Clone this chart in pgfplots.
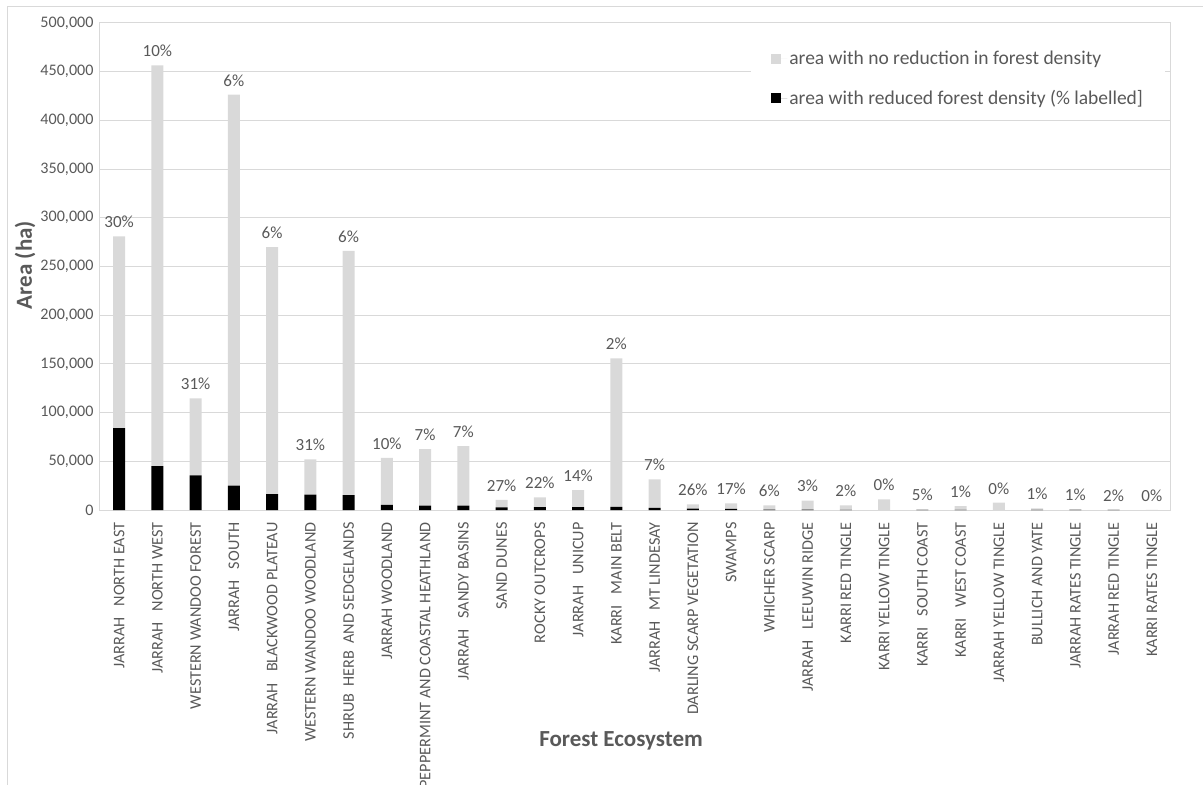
\documentclass[border=0pt]{standalone}
\usepackage{fontspec}
\setmainfont{Carlito}
\usepackage{pgfplots}
\pgfplotsset{compat=1.18}
\usepackage{pgfplotstable}

\definecolor{txt}{HTML}{595959}
\definecolor{barlight}{HTML}{D9D9D9}
\definecolor{gridc}{HTML}{D9D9D9}

% area (ha) per forest ecosystem: reduced density, remainder, total, share reduced (%)
\pgfplotstableread{
x reduced rest total pct
0  84000 197000 281000 30
1  45000 411500 456500 10
2  35500  79200 114700 31
3  25000 401400 426400 6
4  16400 253600 270000 6
5  15800  36200  52000 31
6  15200 250800 266000 6
7   5300  48100  53400 10
8   4400  58200  62600 7
9   4600  61100  65700 7
10  2800   7500  10300 27
11  2900  10100  13000 22
12  2900  17600  20500 14
13  3100 152600 155700 2
14  2200  29300  31500 7
15  1500   4300   5800 26
16  1200   5700   6900 17
17   300   4500   4800 6
18   300   9300   9600 3
19   100   4700   4800 2
20     0  11000  11000 0
21    30    570    600 5
22    40   4060   4100 1
23     0   7500   7500 0
24    20   1680   1700 1
25    10    990   1000 1
26     6    294    300 2
27     0    200    200 0
}\forestdata

\pgfplotsset{
  forestframe/.style={
    at={(100pt,275pt)}, anchor=south west,
    scale only axis, width=1071pt, height=487pt,
    xmin=-0.5, xmax=27.5, ymin=0, ymax=500000,
  }
}

\begin{document}
\begin{tikzpicture}[x=1pt,y=1pt]
\useasboundingbox (0,0) rectangle (1203,785);
% chart frame
\draw[gridc, line width=1pt] (7,0) -- (7,778) -- (1203,778);
\begin{axis}[
  forestframe,
  ybar stacked, bar width=12pt,
  ytick={0,50000,...,500000},
  scaled y ticks=false,
  /pgf/number format/fixed,
  /pgf/number format/1000 sep={,},
  /pgf/number format/assume math mode=true,
  ymajorgrids,
  grid style={gridc, line width=1pt},
  axis line style={gridc, line width=1pt},
  major tick length=0pt,
  xtick={0,...,27},
  xticklabels={
    JARRAH\ \ \ NORTH EAST, JARRAH\ \ \ NORTH WEST, WESTERN WANDOO FOREST,
    JARRAH\ \ \ SOUTH, JARRAH\ \ \ BLACKWOOD PLATEAU, WESTERN WANDOO WOODLAND,
    SHRUB\ \ HERB\ \ AND SEDGELANDS, JARRAH WOODLAND,
    PEPPERMINT AND COASTAL HEATHLAND, JARRAH\ \ \ SANDY BASINS, SAND DUNES,
    ROCKY OUTCROPS, JARRAH\ \ \ UNICUP, KARRI\ \ \ MAIN BELT,
    JARRAH\ \ \ MT LINDESAY, DARLING SCARP VEGETATION, SWAMPS, WHICHER SCARP,
    JARRAH\ \ \ LEEUWIN RIDGE, KARRI RED TINGLE, KARRI YELLOW TINGLE,
    KARRI\ \ \ SOUTH COAST, KARRI\ \ \ WEST COAST, JARRAH YELLOW TINGLE,
    BULLICH AND YATE, JARRAH RATES TINGLE, JARRAH RED TINGLE,
    KARRI RATES TINGLE},
  xticklabel style={rotate=90, anchor=east, font=\fontsize{16.2}{18}\selectfont, text=txt, xshift=-9pt},
  yticklabel style={font=\fontsize{16.1}{18}\selectfont, text=txt, xshift=-3pt},
  xtick pos=bottom, ytick pos=left,
  xlabel={Forest Ecosystem},
  ylabel={Area (ha)},
  xlabel style={font=\bfseries\fontsize{23}{25}\selectfont, text=txt,
    at={(axis description cs:0.4865,-0.4743)}, anchor=center},
  ylabel style={font=\bfseries\fontsize{23}{25}\selectfont, text=txt,
    at={(axis description cs:-0.070,0.503)}, anchor=center},
  legend style={draw=none, fill=white, text=txt,
    font=\fontsize{19.5}{21}\selectfont,
    at={(axis description cs:0.608,0.963)}, anchor=north west,
    cells={anchor=west}, row sep=20pt, inner xsep=20pt, inner ysep=8pt},
  legend image code/.code={%
    \path (0pt,0pt) -- (16pt,0pt);
    \fill[#1] (0pt,-5pt) rectangle (10pt,5pt);},
  reverse legend,
]
\addplot[fill=black, draw=none] table[x=x, y=reduced] {\forestdata};
\addlegendentry{area with reduced forest density (\% labelled]}
\addplot[fill=barlight, draw=none] table[x=x, y=rest] {\forestdata};
\addlegendentry{area with no reduction in forest density}
\end{axis}
% share of reduced area written above each bar total
\begin{axis}[forestframe, hide axis]
\addplot[draw=none, mark=none,
  point meta=explicit symbolic,
  nodes near coords={\pgfplotspointmeta\%},
  nodes near coords style={text=txt, font=\fontsize{17}{19}\selectfont, anchor=south, yshift=5pt}]
  table[x=x, y=total, meta=pct] {\forestdata};
\end{axis}
\end{tikzpicture}
\end{document}
